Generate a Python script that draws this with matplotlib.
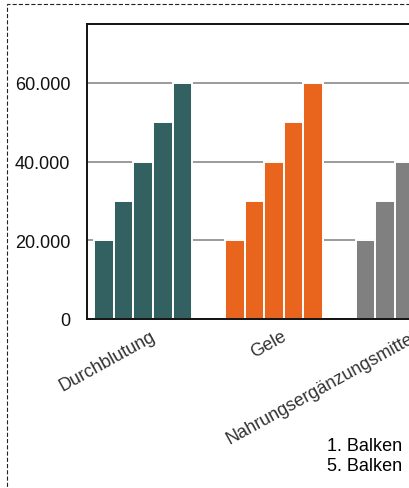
import matplotlib.pyplot as plt
import matplotlib.transforms as mtransforms
from matplotlib.patches import Rectangle
from matplotlib.ticker import FuncFormatter
import numpy as np

plt.rcParams["font.family"] = ["Liberation Sans", "DejaVu Sans"]
plt.rcParams["lines.scale_dashes"] = False

categories = ["Durchblutung", "Gele", "Nahrungsergänzungsmittel"]
series_names = ["1. Balken", "2. Balken", "3. Balken", "4. Balken", "5. Balken"]
balken_1 = [20000, 20000, 20000]
balken_2 = [30000, 30000, 30000]
balken_3 = [40000, 40000, 40000]
balken_4 = [50000, 50000, 50000]
balken_5 = [60000, 60000, 60000]
series_values = [balken_1, balken_2, balken_3, balken_4, balken_5]
category_colours = ["#336162", "#e9651e", "#808080"]
y_ticks = [0, 20000, 40000, 60000]

W, H = 410, 489
fig = plt.figure(figsize=(W / 100, H / 100), dpi=100)

# axes run off the right edge like in the screenshot
ax = fig.add_axes([87 / W, 1 - 320 / H, 374 / W, 295 / H])

x = np.arange(len(categories))
bw = 0.15
for i, vals in enumerate(series_values):
    ax.bar(
        x + (i - 2) * bw,
        vals,
        width=bw,
        color=category_colours,
        edgecolor="white",
        linewidth=1.4,
        label=series_names[i],
        zorder=2,
    )

ax.set_xlim(-0.43, 2.43)
ax.set_ylim(0, 75000)
ax.set_yticks(y_ticks)
ax.yaxis.set_major_formatter(FuncFormatter(lambda v, p: f"{int(v):,}".replace(",", ".")))
ax.grid(axis="y", color="#8a8a8a", lw=1.2, zorder=1)
ax.tick_params(axis="y", length=0, pad=12, labelsize=13, labelcolor="#111111")
ax.tick_params(axis="x", length=0, pad=4)
for s in ax.spines.values():
    s.set_linewidth(1.4)
    s.set_color("#111111")

ax.set_xticks(x)
ax.set_xticklabels(categories, rotation=29, ha="right", rotation_mode="anchor",
                   fontsize=13, color="#333333")
offset = mtransforms.ScaledTranslation(7 / 100, -3 / 100, fig.dpi_scale_trans)
for lbl in ax.get_xticklabels():
    lbl.set_transform(lbl.get_transform() + offset)

# row-major order: first row 1-4, second row 5
handles, labels = ax.get_legend_handles_labels()
order = [0, 4, 1, 2, 3]
fig.legend(
    [handles[k] for k in order],
    [labels[k] for k in order],
    loc="upper left",
    bbox_to_anchor=(327 / W, 1 - 438 / H),
    ncol=4,
    frameon=False,
    markerfirst=False,
    fontsize=13,
    borderpad=0,
    borderaxespad=0,
    labelspacing=0.15,
    columnspacing=1.0,
    handletextpad=0.6,
)

# dashed outer border
fig.patches.append(
    Rectangle((7 / W, -0.1), 1.2, 1 - 5 / H + 0.1, transform=fig.transFigure,
              fill=False, edgecolor="#222222", lw=0.8, linestyle=(0, (3, 1.5)))
)

fig.savefig("out.png", dpi=100)
